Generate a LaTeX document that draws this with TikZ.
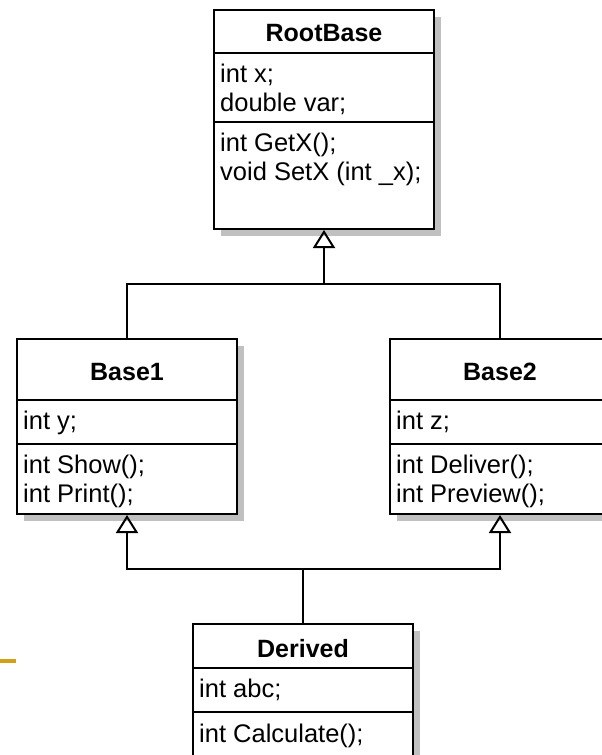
\documentclass[tikz,border=0pt]{standalone}
\usepackage{fontspec}
\setmainfont{Liberation Sans}
\usetikzlibrary{arrows.meta,shadows}
\definecolor{shadowgray}{RGB}{192,192,192}
\definecolor{accent}{RGB}{212,160,23}
\begin{document}
\begin{tikzpicture}[x=1pt,y=-1pt,
  cls/.style={draw=black, line width=2pt, fill=white, anchor=north west, inner sep=0pt,
    minimum width=220pt, minimum height=#1,
    drop shadow={shadow xshift=7pt, shadow yshift=-7pt, fill=shadowgray, opacity=1}},
  title/.style={anchor=base, inner sep=0pt, font=\fontsize{25}{30}\selectfont\bfseries},
  member/.style={anchor=base west, inner sep=0pt, font=\fontsize{25.5}{30}\selectfont},
  sep/.style={line width=2pt},
  wire/.style={line width=2pt},
  gen/.style={wire, -{Triangle[open, length=18pt, width=22pt, line width=2pt]}},
]
\useasboundingbox (0,0) rectangle (602,755);
\clip (0,0) rectangle (602,755);

% class boxes
\node[cls=219pt] (root) at (213,9) {};
\node[cls=175pt] (b1) at (16,338) {};
\node[cls=175pt] (b2) at (389,338) {};
\node[cls=160pt] (der) at (192,623) {};

% compartment separators
\draw[sep] (root.north west) ++(1,44) -- ++(220,0);
\draw[sep] (root.north west) ++(1,113) -- ++(220,0);
\draw[sep] (b1.north west) ++(1,62) -- ++(220,0);
\draw[sep] (b1.north west) ++(1,106) -- ++(220,0);
\draw[sep] (b2.north west) ++(1,62) -- ++(220,0);
\draw[sep] (b2.north west) ++(1,106) -- ++(220,0);
\draw[sep] (der.north west) ++(1,45) -- ++(220,0);
\draw[sep] (der.north west) ++(1,89) -- ++(220,0);

% RootBase texts
\node[title] (root-t) at (324,41) {RootBase};
\node[member] (root-a1) at (220,82) {int x;};
\node[member] (root-a2) at (220,111) {double var;};
\node[member] (root-m1) at (220,151) {int GetX();};
\node[member] (root-m2) at (220,180) {void SetX (int \_x);};

% Base1 texts
\node[title] (b1-t) at (127,380) {Base1};
\node[member] (b1-a1) at (23,429) {int y;};
\node[member] (b1-m1) at (23,473) {int Show();};
\node[member] (b1-m2) at (23,502) {int Print();};

% Base2 texts
\node[title] (b2-t) at (500,380) {Base2};
\node[member] (b2-a1) at (396,429) {int z;};
\node[member] (b2-m1) at (396,473) {int Deliver();};
\node[member] (b2-m2) at (396,502) {int Preview();};

% Derived texts
\node[title] (der-t) at (303,657) {Derived};
\node[member] (der-a1) at (199,697) {int abc;};
\node[member] (der-m1) at (199,742) {int Calculate();};

% connectors
\coordinate (j1) at (root.south |- 0,284);
\draw[gen] (j1) -- (root.south);
\draw[wire] (b1.north) |- (j1) -| (b2.north);
\coordinate (j2) at (der.north |- 0,569);
\draw[wire] (der.north) -- (j2);
\draw[gen] (j2) -| (b1.south);
\draw[gen] (j2) -| (b2.south);

% accent bar
\draw[accent, line width=4pt] (0,661) -- (16,661);
\end{tikzpicture}
\end{document}
